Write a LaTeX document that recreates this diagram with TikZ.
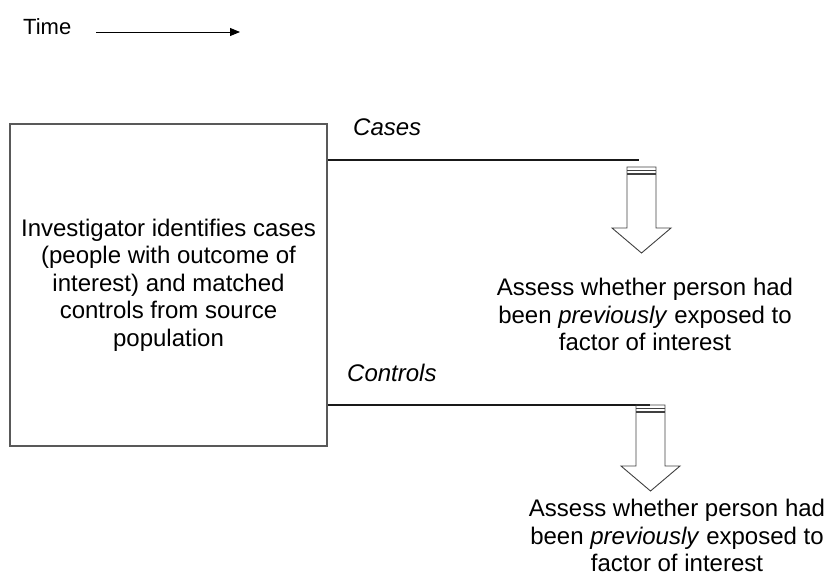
\documentclass[tikz,border=0pt]{standalone}
\usepackage{fontspec}
\setmainfont{Liberation Sans}
\usetikzlibrary{arrows.meta}

\tikzset{
  body text/.style={font=\fontsize{24}{27.5}\selectfont, align=center, inner sep=0pt},
  arm label/.style={font=\fontsize{24}{27.5}\selectfont\itshape, anchor=west, inner sep=0pt},
  source box/.style={draw=black!65, line width=1.6pt, minimum width=317pt, minimum height=322pt, inner sep=0pt},
  arm line/.style={draw=black!90, line width=1.8pt},
  pics/assess arrow/.style={code={
    \draw [black!75, line width=0.9pt, line join=miter]
      (-14.5,0) -- (-14.5,61) -- (-29.5,61) -- (0,86) -- (29.5,61) -- (14.5,61) -- (14.5,0) -- cycle;
    \foreach \s in {3.5,7}
      \draw [black!75, line width=1.3pt] (-14.5,\s) -- (14.5,\s);
  }}
}

\begin{document}
\begin{tikzpicture}[x=1pt, y=-1pt, >={Triangle[length=10pt,width=8pt]}]
\useasboundingbox (0,0) rectangle (826,576);

\node [font=\fontsize{22}{26}\selectfont, anchor=west, inner sep=0pt] (time) at (23,27) {Time};
\coordinate (time-start) at (96,32);
\coordinate (time-end) at (240,32);
\draw [->, line width=1pt] (time-start) -- (time-end);

\node [source box, body text] (source) at (168.5,285)
  {Investigator identifies cases\\(people with outcome of\\interest) and matched\\controls from source\\population};

\foreach \n/\l/\lx/\ly/\y/\e/\ax/\ay/\tx/\ty in
  {cases/Cases/353/127/160/639/641.5/167/645/351,
   controls/Controls/347/373/405/650/650.5/405/677/572} {
  \node [arm label] (label-\n) at (\lx,\ly) {\l};
  \coordinate (end-\n) at (\e,\y);
  \draw [arm line] (source.east |- end-\n) -- (end-\n);
  \pic (arrow-\n) at (\ax,\ay) {assess arrow};
  \node [body text, anchor=south] (assess-\n) at (\tx,\ty)
    {Assess whether person had\\been \textit{previously} exposed to\\factor of interest};
}

\end{tikzpicture}
\end{document}
